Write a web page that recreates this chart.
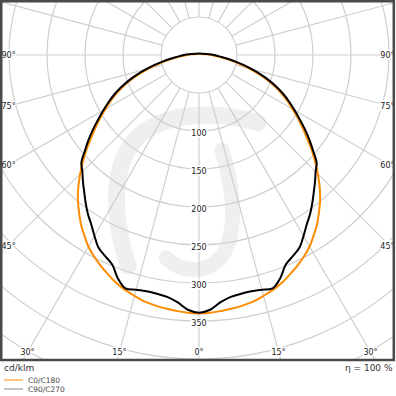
<!DOCTYPE html>
<html>
<head>
<meta charset="utf-8">
<script src="https://cdn.jsdelivr.net/npm/d3@7"></script>
<style>
  html, body { margin: 0; padding: 0; background: #fff; }
  text { font-family: 'DejaVu Sans', sans-serif; }
</style>
</head>
<body>
<div id="chart-ldc"></div>
<script>
// gamma angles (deg from nadir) and intensities in cd/klm
const gammaAngles = [
  0, 2.5, 5, 7.5, 10, 12.5, 15, 17.5, 20, 22.5, 25, 27.5, 30, 32.5, 35, 37.5,
  40, 42.5, 45, 47.5, 50, 52.5, 55, 57.5, 60, 62.5, 65, 67.5, 70, 72.5, 75,
  77.5, 80, 82.5, 85, 87.5, 90, 95, 100, 110, 120, 135, 150, 165, 180
]
const c0c180 = [
  340, 339.5, 338, 336.5, 334.5, 332, 328, 324, 319, 312.5, 306, 299, 291, 281,
  271, 259.5, 248, 235, 221, 207, 193, 179, 166, 154, 142, 131, 120, 108, 95,
  81, 68, 56, 44, 34, 26, 20, 16, 10, 6, 3.5, 2.5, 1.8, 1.5, 1.3, 1.3
]
const c90c270 = [
  339, 335.5, 326.5, 321, 319, 318.5, 319.8, 322, 312.5, 298.5, 292, 286, 275,
  264, 255, 245, 235, 226, 217, 210, 196, 183, 170, 157, 145, 134, 123, 111,
  98.5, 85, 72, 60, 48, 38, 30, 24, 20, 13, 8, 5, 3.5, 2.6, 2.2, 2, 2
]
const ringValues = [50, 100, 150, 200, 250, 300, 350, 400, 450]
const ringLabels = [100, 150, 200, 250, 300, 350]
const spokeAngles = d3.range(0, 360, 15)
const bottomLabels = [-30, -15, 0, 15, 30]
const sideLabels = [45, 60, 75, 90]

const width = 396
const height = 396
const frame = { left: 1.25, top: 1.25, right: 393.8, bottom: 360 }
const cx = 199
const cy = 55

const svg = d3
  .select('#chart-ldc')
  .append('svg')
  .attr('width', width)
  .attr('height', height)

const rScale = d3
  .scaleLinear()
  .domain([0, 450])
  .range([0, 342])

svg
  .append('clipPath')
  .attr('id', 'frame-clip')
  .append('rect')
  .attr('x', frame.left)
  .attr('y', frame.top)
  .attr('width', frame.right - frame.left)
  .attr('height', frame.bottom - frame.top)

const plot = svg.append('g').attr('clip-path', 'url(#frame-clip)')

// faint logo in the background
const mark = plot
  .append('g')
  .attr('fill', 'none')
  .attr('stroke', '#efefef')
  .attr('stroke-linecap', 'round')
mark
  .append('path')
  .attr('stroke-width', 17)
  .attr('d', 'M128,266 C112,214 111,166 136,139 C161,113 214,109 258,123')
mark
  .append('path')
  .attr('stroke-width', 15)
  .attr('d', 'M222,150 C234,190 238,232 222,256 C206,276 181,272 166,258')

const grid = plot
  .append('g')
  .attr('transform', 'translate(' + cx + ',' + cy + ')')
  .attr('fill', 'none')
  .attr('stroke', '#cfcfcf')
  .attr('stroke-width', 1.2)

grid
  .selectAll('circle')
  .data(ringValues)
  .enter()
  .append('circle')
  .attr('r', d => rScale(d))

// spokes start at the first ring
grid
  .selectAll('line')
  .data(spokeAngles)
  .enter()
  .append('line')
  .attr('x1', d => rScale(50) * Math.sin((d * Math.PI) / 180))
  .attr('y1', d => rScale(50) * Math.cos((d * Math.PI) / 180))
  .attr('x2', d => rScale(700) * Math.sin((d * Math.PI) / 180))
  .attr('y2', d => rScale(700) * Math.cos((d * Math.PI) / 180))

// both half planes are drawn from one profile, mirrored
function halfPlanes(values) {
  const left = gammaAngles
    .map((g, i) => [Math.PI + (g * Math.PI) / 180, values[i]])
    .reverse()
  const right = gammaAngles
    .slice(1)
    .map((g, i) => [Math.PI - (g * Math.PI) / 180, values[i + 1]])
  return left.concat(right)
}

const radial = d3
  .lineRadial()
  .angle(d => d[0])
  .radius(d => rScale(d[1]))
  .curve(d3.curveCatmullRom)

const curves = plot
  .append('g')
  .attr('transform', 'translate(' + cx + ',' + cy + ')')
  .attr('fill', 'none')
  .attr('stroke-width', 2)

curves
  .append('path')
  .attr('d', radial(halfPlanes(c0c180)))
  .attr('stroke', '#ff8c00')

curves
  .append('path')
  .attr('d', radial(halfPlanes(c90c270)))
  .attr('stroke', '#000')

// labels with a white halo
const labels = svg
  .append('g')
  .attr('font-size', 8)
  .attr('fill', '#222')
  .attr('text-anchor', 'middle')
  .attr('stroke', '#fff')
  .attr('stroke-width', 3)
  .attr('paint-order', 'stroke')

labels
  .selectAll('.ring-label')
  .data(ringLabels)
  .enter()
  .append('text')
  .attr('class', 'ring-label')
  .attr('x', cx)
  .attr('y', d => cy + rScale(d) + 2)
  .attr('dy', '0.35em')
  .text(d => d)

const labelY = 352
labels
  .selectAll('.bottom-label')
  .data(bottomLabels)
  .enter()
  .append('text')
  .attr('class', 'bottom-label')
  .attr('x', d => cx + (labelY - cy) * Math.tan((d * Math.PI) / 180))
  .attr('y', labelY)
  .attr('dy', '0.35em')
  .text(d => Math.abs(d) + '°')

const sideX = 191.5
sideLabels.forEach(d => {
  const y = cy + sideX / Math.tan((d * Math.PI) / 180)
  labels
    .append('text')
    .attr('x', 1.5)
    .attr('y', y)
    .attr('dy', '0.35em')
    .attr('text-anchor', 'start')
    .text(d + '°')
  labels
    .append('text')
    .attr('x', 394.5)
    .attr('y', y)
    .attr('dy', '0.35em')
    .attr('text-anchor', 'end')
    .text(d + '°')
})

svg
  .append('rect')
  .attr('x', frame.left)
  .attr('y', frame.top)
  .attr('width', frame.right - frame.left)
  .attr('height', frame.bottom - frame.top)
  .attr('fill', 'none')
  .attr('stroke', '#4a4a4a')
  .attr('stroke-width', 2.5)

// footer
svg
  .append('text')
  .attr('x', 4)
  .attr('y', 371)
  .attr('font-size', 9)
  .attr('fill', '#333')
  .text('cd/klm')

svg
  .append('text')
  .attr('x', 392.5)
  .attr('y', 371)
  .attr('font-size', 9)
  .attr('fill', '#333')
  .attr('text-anchor', 'end')
  .text('η = 100 %')

const legendItems = [
  { name: 'C0/C180', color: '#ff8c00' },
  { name: 'C90/C270', color: '#888' }
]

const legend = svg
  .selectAll('.legend')
  .data(legendItems)
  .enter()
  .append('g')
  .attr('class', 'legend')
  .attr('transform', (d, i) => 'translate(4,' + (380 + i * 9) + ')')

legend
  .append('line')
  .attr('x1', 0)
  .attr('x2', 19)
  .attr('stroke', d => d.color)
  .attr('stroke-width', 1)

legend
  .append('text')
  .attr('x', 24)
  .attr('dy', '0.35em')
  .attr('font-size', 7.5)
  .attr('fill', '#444')
  .text(d => d.name)
</script>
</body>
</html>
